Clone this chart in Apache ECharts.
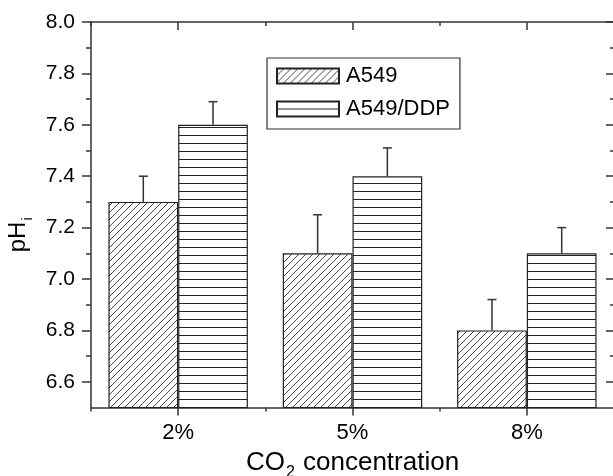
<!DOCTYPE html>
<html>
<head>
<meta charset="utf-8">
<script src="https://cdn.jsdelivr.net/npm/echarts@6/dist/echarts.min.js"></script>
<style>
html,body{margin:0;padding:0;background:#fff;}
#chart{width:613px;height:476px;}
</style>
</head>
<body>
<div id="chart"></div>
<script>
// ---- data ----
const categories = ['2%', '5%', '8%'];
const a549 = [7.3, 7.1, 6.8];
const a549Err = [0.10, 0.15, 0.12];
const ddp = [7.6, 7.4, 7.1];
const ddpErr = [0.09, 0.11, 0.10];
const yMajorTicks = [6.6, 6.8, 7.0, 7.2, 7.4, 7.6, 7.8, 8.0];
const yMinorTicks = [6.7, 6.9, 7.1, 7.3, 7.5, 7.7, 7.9];
const seriesNames = ['A549', 'A549/DDP'];

// ---- patterns ----
function hatchPattern() {
  const s = 7;
  const c = document.createElement('canvas');
  c.width = s; c.height = s;
  const g = c.getContext('2d');
  g.fillStyle = '#fff'; g.fillRect(0, 0, s, s);
  g.strokeStyle = '#333'; g.lineWidth = 0.9;
  g.beginPath();
  for (let k = -1; k <= 1; k++) {
    g.moveTo(k * s, s); g.lineTo(k * s + s, 0);
  }
  g.stroke();
  return c;
}
function hlinePattern() {
  const c = document.createElement('canvas');
  c.width = 8; c.height = 8;
  const g = c.getContext('2d');
  g.fillStyle = '#fff'; g.fillRect(0, 0, 8, 8);
  g.fillStyle = '#222'; g.fillRect(0, 7, 8, 1);
  return c;
}
const hatch = {image: hatchPattern(), repeat: 'repeat'};
const hline = {image: hlinePattern(), repeat: 'repeat'};

const FONT = 'Liberation Sans, Arial, Helvetica, sans-serif';
const AX = '#333';

function errData(vals, errs) {
  return vals.map((v, i) => [i, v, +(v + errs[i]).toFixed(3)]);
}
function errRender(side) {
  return function (params, api) {
    const idx = api.value(0);
    const band = api.size([1, 0])[0];
    const p1 = api.coord([idx, api.value(1)]);
    const p2 = api.coord([idx, api.value(2)]);
    const x = p1[0] + side * band * 0.2;
    const style = {stroke: '#333', lineWidth: 1.5};
    return {
      type: 'group',
      children: [
        {type: 'line', shape: {x1: x, y1: p1[1], x2: x, y2: p2[1]}, style: style},
        {type: 'line', shape: {x1: x - 4.5, y1: p2[1], x2: x + 4.5, y2: p2[1]}, style: style}
      ]
    };
  };
}

const chart = echarts.init(document.getElementById('chart'), null, {renderer: 'canvas'});
const yBase = {type: 'value', min: 6.5, max: 8.0, splitLine: {show: false}};
const xBase = {type: 'category', data: categories, boundaryGap: true, splitLine: {show: false}};

chart.setOption({
  animation: false,
  backgroundColor: '#fff',
  textStyle: {fontFamily: FONT, color: '#000'},
  grid: {left: 91, right: -1, top: 22, bottom: 68.5, containLabel: false, outerBoundsMode: 'none'},
  legend: {
    orient: 'vertical',
    left: 267, top: 58,
    padding: [7, 10, 9, 9],
    itemGap: 11,
    itemWidth: 62, itemHeight: 15,
    borderColor: '#333', borderWidth: 1.2,
    icon: 'rect',
    textStyle: {fontFamily: FONT, fontSize: 22, color: '#000', padding: [0, 0, 0, 2]},
    data: seriesNames
  },
  xAxis: [
    Object.assign({}, xBase, {
      position: 'bottom',
      axisLine: {show: true, lineStyle: {color: AX, width: 1.5}},
      axisTick: {show: true, alignWithLabel: true, length: 8, inside: false, lineStyle: {color: AX, width: 1.5}},
      axisLabel: {margin: 14, fontSize: 22, color: '#000', fontFamily: FONT},
      name: '{n|CO}{s|2}{n| concentration}',
      nameLocation: 'middle',
      nameGap: 42,
      nameTextStyle: {
        rich: {
          n: {fontSize: 26, fontFamily: FONT, color: '#000', lineHeight: 30, verticalAlign: 'top'},
          s: {fontSize: 16, fontFamily: FONT, color: '#000', lineHeight: 16, padding: [15, 1, 0, 1], verticalAlign: 'top'}
        }
      }
    }),
    Object.assign({}, xBase, {
      position: 'bottom',
      axisLine: {show: false},
      axisTick: {show: true, alignWithLabel: false, length: 4, inside: false, lineStyle: {color: AX, width: 1.5}},
      axisLabel: {show: false}
    }),
    Object.assign({}, xBase, {
      position: 'top',
      axisLine: {show: true, lineStyle: {color: AX, width: 1.5}},
      axisTick: {show: true, alignWithLabel: true, length: 8, inside: true, lineStyle: {color: AX, width: 1.5}},
      axisLabel: {show: false}
    }),
    Object.assign({}, xBase, {
      position: 'top',
      axisLine: {show: false},
      axisTick: {show: true, alignWithLabel: false, length: 4, inside: true, lineStyle: {color: AX, width: 1.5}},
      axisLabel: {show: false}
    })
  ],
  yAxis: [
    Object.assign({}, yBase, {
      position: 'left',
      axisLine: {show: true, lineStyle: {color: AX, width: 1.5}},
      axisTick: {show: true, customValues: yMajorTicks, length: 9, inside: false, lineStyle: {color: AX, width: 1.5}},
      axisLabel: {customValues: yMajorTicks, margin: 16, fontSize: 21, color: '#000', fontFamily: FONT,
        formatter: v => v.toFixed(1)},
      name: '{n|pH}{s|i}',
      nameLocation: 'middle',
      nameGap: 52,
      nameTextStyle: {
        rich: {
          n: {fontSize: 24, fontFamily: FONT, color: '#000', lineHeight: 28, verticalAlign: 'top'},
          s: {fontSize: 15, fontFamily: FONT, color: '#000', lineHeight: 15, padding: [14, 40, 0, 1], verticalAlign: 'top'}
        }
      }
    }),
    Object.assign({}, yBase, {
      position: 'left',
      axisLine: {show: false},
      axisTick: {show: true, customValues: yMinorTicks, length: 5, inside: false, lineStyle: {color: AX, width: 1.5}},
      axisLabel: {show: false}
    }),
    Object.assign({}, yBase, {
      position: 'right',
      axisLine: {show: true, lineStyle: {color: AX, width: 1.5}},
      axisTick: {show: true, customValues: yMajorTicks, length: 8, inside: true, lineStyle: {color: AX, width: 1.5}},
      axisLabel: {show: false}
    }),
    Object.assign({}, yBase, {
      position: 'right',
      axisLine: {show: false},
      axisTick: {show: true, customValues: yMinorTicks, length: 4, inside: true, lineStyle: {color: AX, width: 1.5}},
      axisLabel: {show: false}
    })
  ],
  series: [
    {
      name: seriesNames[0], type: 'bar', data: a549,
      barWidth: '40%', barGap: '0%',
      itemStyle: {color: hatch, borderColor: '#222', borderWidth: 1.2}
    },
    {
      name: seriesNames[1], type: 'bar', data: ddp,
      barWidth: '40%', barGap: '0%',
      itemStyle: {color: hline, borderColor: '#222', borderWidth: 1.2}
    },
    {
      type: 'custom', name: 'errA', data: errData(a549, a549Err), z: 5,
      renderItem: errRender(-1), encode: {x: 0, y: [1, 2]}
    },
    {
      type: 'custom', name: 'errB', data: errData(ddp, ddpErr), z: 5,
      renderItem: errRender(1), encode: {x: 0, y: [1, 2]}
    }
  ]
});
</script>
</body>
</html>
